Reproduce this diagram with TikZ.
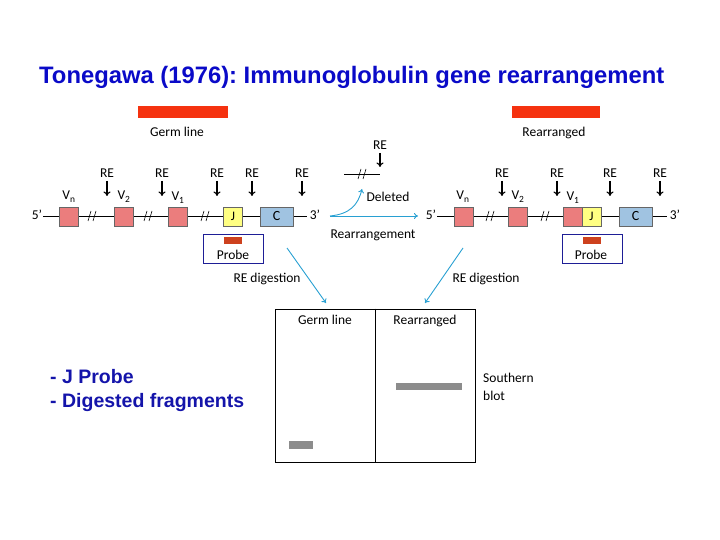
\documentclass[tikz,border=0pt]{standalone}
\usepackage{fontspec}
\setmainfont{Carlito}
\newfontfamily\titlefont{Liberation Sans}
\usetikzlibrary{arrows.meta}
\definecolor{titleblue}{RGB}{10,10,200}
\definecolor{bulletblue}{RGB}{20,20,170}
\definecolor{redbar}{RGB}{245,50,15}
\definecolor{vpink}{RGB}{235,125,125}
\definecolor{jyellow}{RGB}{255,255,130}
\definecolor{cblue}{RGB}{160,195,225}
\definecolor{probered}{RGB}{205,65,30}
\definecolor{probeborder}{RGB}{30,30,150}
\definecolor{arrowblue}{RGB}{40,160,210}
\definecolor{bandgray}{RGB}{140,140,140}
\begin{document}
\frenchspacing
\begin{tikzpicture}[x=1pt,y=-1pt,
  lab/.style={font=\fontsize{13.5}{16}\selectfont, inner sep=0pt, anchor=base},
  genebox/.style={draw=black!60, line width=0.5pt, minimum width=19pt, minimum height=19pt, inner sep=0pt},
  vbox/.style={genebox, fill=vpink},
  jbox/.style={genebox, fill=jyellow, font=\fontsize{13}{15}\selectfont},
  cbox/.style={genebox, fill=cblue, minimum width=33pt, font=\fontsize{14}{16}\selectfont},
  rebar/.style={fill=redbar, minimum width=90pt, minimum height=12pt, inner sep=0pt},
  reArrow/.style={-{To[length=4.5pt,width=7pt]}, line width=1.1pt},
  blueArrow/.style={-{To[length=4pt,width=6pt]}, arrowblue, line width=0.9pt},
  probebox/.style={draw=probeborder, line width=1pt, minimum width=60pt, minimum height=29pt, inner sep=0pt},
  probebar/.style={fill=probered, minimum width=18pt, minimum height=7pt, inner sep=0pt},
  band/.style={fill=bandgray, inner sep=0pt},
  brk/.pic={\draw[line width=0.6pt] (-4,5) -- (-1,-5) (1,5) -- (4,-5);}
]
\useasboundingbox (0,0) rectangle (720,540);

% title
\node[anchor=base west, inner sep=0pt, text=titleblue, font=\titlefont\bfseries\fontsize{23.8}{28}\selectfont] (title) at (39,84) {Tonegawa (1976): Immunoglobulin gene rearrangement};

% red bars
\node[rebar] (barG) at (183,112) {};
\node[lab] (lblG) at (177,137) {Germ line};
\node[rebar, minimum width=88pt] (barR) at (556,112) {};
\node[lab] (lblR) at (554,137) {Rearranged};

% ---------- left (germ line) gene ----------
\node[lab] (g5) at (37,220) {5’};
\node[lab] (g3) at (315,220) {3’};
\coordinate (gL) at (43,216);
\coordinate (gR) at (307,216);
\draw[line width=0.6pt] (gL) -- (gR);
\node[vbox] (gVn) at (68.5,216.5) {};
\node[vbox] (gV2) at (123.5,216.5) {};
\node[vbox] (gV1) at (178,216.5) {};
\node[jbox] (gJ) at (233,216.5) {J};
\node[cbox] (gC) at (276.5,216.5) {C};
\pic at (92,216) {brk};
\pic at (148,216) {brk};
\pic at (205,216) {brk};
\node[lab] (gVnl) at (69,200) {V\textsubscript{n}};
\node[lab] (gV2l) at (124,200) {V\textsubscript{2}};
\node[lab] (gV1l) at (178,201) {V\textsubscript{1}};
\foreach \n/\x in {a/107,b/162,c/217,d/252,e/302}{
  \node[lab] (gre\n) at (\x,177.5) {RE};
  \draw[reArrow] (\x,181) -- (\x,196);
}
\node[probebox] (gP) at (233,248.5) {};
\node[probebar] (gPb) at (233,240.5) {};
\node[lab] (gPl) at (233,259) {Probe};

% ---------- rearrangement ----------
\coordinate (rs) at (330,216);
\node[lab] (d5) at (431,220) {5’};
\draw[blueArrow] (rs) -- (418,216);
\coordinate (del) at (362,189);
\draw[blueArrow] (rs) .. controls (350,214) and (358,205) .. (del);
\node[lab] (rearr) at (373,238) {Rearrangement};
\node[lab] (deleted) at (388,202) {Deleted};
\coordinate (dL) at (344,174);
\coordinate (dR) at (380,174);
\draw[line width=0.8pt] (dL) -- (dR);
\pic at (362,174) {brk};
\node[lab] (dre) at (380,149.5) {RE};
\draw[reArrow] (380,153) -- (380,167);

% ---------- right (rearranged) gene ----------
\node[lab] (r3) at (675,220) {3’};
\draw[line width=0.6pt] (437,216) -- (667,216);
\node[vbox] (rVn) at (463.5,216.5) {};
\node[vbox] (rV2) at (518,216.5) {};
\node[vbox] (rV1) at (573,216.5) {};
\node[jbox] (rJ) at (591.5,216.5) {J};
\node[cbox] (rC) at (635.5,216.5) {C};
\pic at (490,216) {brk};
\pic at (545,216) {brk};
\node[lab] (rVnl) at (463,200) {V\textsubscript{n}};
\node[lab] (rV2l) at (518,200) {V\textsubscript{2}};
\node[lab] (rV1l) at (573,201) {V\textsubscript{1}};
\foreach \n/\x in {a/502,b/557,c/610,d/660}{
  \node[lab] (rre\n) at (\x,177.5) {RE};
  \draw[reArrow] (\x,181) -- (\x,196);
}
\node[probebox] (rP) at (592,248.5) {};
\node[probebar] (rPb) at (591.5,240.5) {};
\node[lab] (rPl) at (591,259) {Probe};

% ---------- digestion ----------
\node[lab] (digL) at (267,282) {RE digestion};
\node[lab] (digR) at (486,282) {RE digestion};
\coordinate (aLs) at (287,248);
\coordinate (aLe) at (326,303);
\coordinate (aRs) at (463,248);
\coordinate (aRe) at (425,303);
\draw[blueArrow] (aLs) -- (aLe);
\draw[blueArrow] (aRs) -- (aRe);

% ---------- Southern blot ----------
\node[draw, line width=0.8pt, minimum width=200pt, minimum height=153pt, inner sep=0pt] (blot) at (375,385.5) {};
\draw[line width=0.8pt] (blot.north) -- (blot.south);
\node[lab] (bG) at (325,324.5) {Germ line};
\node[lab] (bR) at (425,324.5) {Rearranged};
\node[band, minimum width=66pt, minimum height=7pt] (bandR) at (429,386.5) {};
\node[band, minimum width=24pt, minimum height=8pt] (bandL) at (301,445) {};
\node[lab, anchor=base west] (sb1) at (483,382.5) {Southern};
\node[lab, anchor=base west] (sb2) at (483,400.5) {blot};

% bullets
\node[anchor=base west, inner sep=0pt, align=left, text=bulletblue, font=\titlefont\bfseries\fontsize{19.5}{23.5}\selectfont] (bul) at (50,407) {- J Probe\\- Digested fragments};
\end{tikzpicture}
\end{document}
